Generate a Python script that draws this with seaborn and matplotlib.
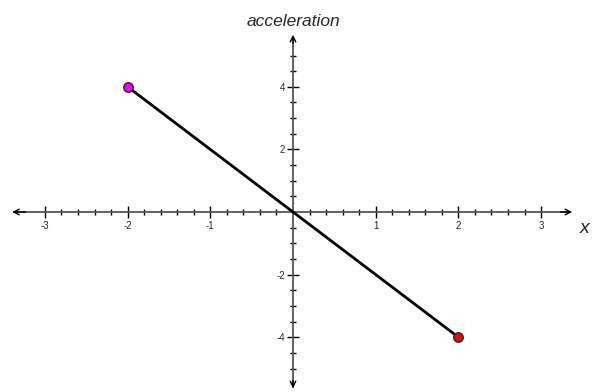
import matplotlib
matplotlib.use("Agg")
import matplotlib.pyplot as plt
from matplotlib.ticker import FixedLocator
import seaborn as sns
import pandas as pd

# data
xs = [-2, 2]
ys = [4, -4]
point_colors = ["#ff00ff", "#ff0000"]
x_major = [-3, -2, -1, 1, 2, 3]
y_major = [-4, -2, 2, 4]
x_title = "x"
y_title = "acceleration"

sns.set_style("white")
plt.rcParams["font.family"] = ["Liberation Sans", "DejaVu Sans"]
plt.rcParams["axes.unicode_minus"] = False

fig = plt.figure(figsize=(5.97, 3.92), dpi=100)
ax = fig.add_axes([0, 0, 1, 1])

df = pd.DataFrame({"x": xs, "y": ys})
sns.lineplot(data=df, x="x", y="y", color="black", lw=2, ax=ax, zorder=3)
for xi, yi, c in zip(xs, ys, point_colors):
    sns.scatterplot(x=[xi], y=[yi], color=c, s=45, edgecolor="#333333",
                    linewidth=1.2, ax=ax, zorder=4)

px_x, px_y = 82.7, 31.3
ax.set_xlim(-293 / px_x, (597 - 293) / px_x)
ax.set_ylim(-(392 - 212) / px_y, 212 / px_y)

axcol = "#555555"
for s in ["top", "right"]:
    ax.spines[s].set_visible(False)
ax.spines["left"].set_position(("data", 0))
ax.spines["bottom"].set_position(("data", 0))
ax.spines["left"].set_bounds(-5.6, 5.6)
ax.spines["bottom"].set_bounds(-3.35, 3.33)
ax.spines["left"].set_color(axcol)
ax.spines["bottom"].set_color(axcol)
ax.spines["left"].set_linewidth(1.3)
ax.spines["bottom"].set_linewidth(1.3)

ax.xaxis.set_major_locator(FixedLocator(x_major))
ax.yaxis.set_major_locator(FixedLocator(y_major))
ax.xaxis.set_minor_locator(FixedLocator([i * 0.2 for i in range(-15, 16) if i % 5 != 0]))
ax.yaxis.set_minor_locator(FixedLocator([i * 0.5 for i in range(-10, 11) if i not in (0, -4, -8, 4, 8)]))
ax.set_xticklabels([str(v) for v in x_major])
ax.set_yticklabels([str(v) for v in y_major])
ax.tick_params(which="both", bottom=True, left=True, top=False, right=False)
ax.tick_params(which="major", direction="inout", length=9, width=1, color="black",
               labelsize=7, pad=1)
ax.tick_params(which="minor", direction="inout", length=5, width=1, color="black")
ax.tick_params(axis="x", which="major", pad=2)
ax.set_xlabel("")
ax.set_ylabel("")

# axis arrows
ax.annotate("", xy=(-3.43, 0), xytext=(-3.2, 0),
            arrowprops=dict(arrowstyle="->", color="black", lw=1, mutation_scale=10))
ax.annotate("", xy=(3.41, 0), xytext=(3.2, 0),
            arrowprops=dict(arrowstyle="->", color="black", lw=1, mutation_scale=10))
ax.annotate("", xy=(0, 5.75), xytext=(0, 5.3),
            arrowprops=dict(arrowstyle="->", color="black", lw=1, mutation_scale=10))
ax.annotate("", xy=(0, -5.72), xytext=(0, -5.3),
            arrowprops=dict(arrowstyle="->", color="black", lw=1, mutation_scale=10))

ax.text(3.47, -0.53, x_title, fontsize=14, style="italic", ha="left", va="center")
ax.text(0, 6.1, y_title, fontsize=12.5, style="italic", ha="center", va="center")

fig.savefig("out.png", dpi=100)
